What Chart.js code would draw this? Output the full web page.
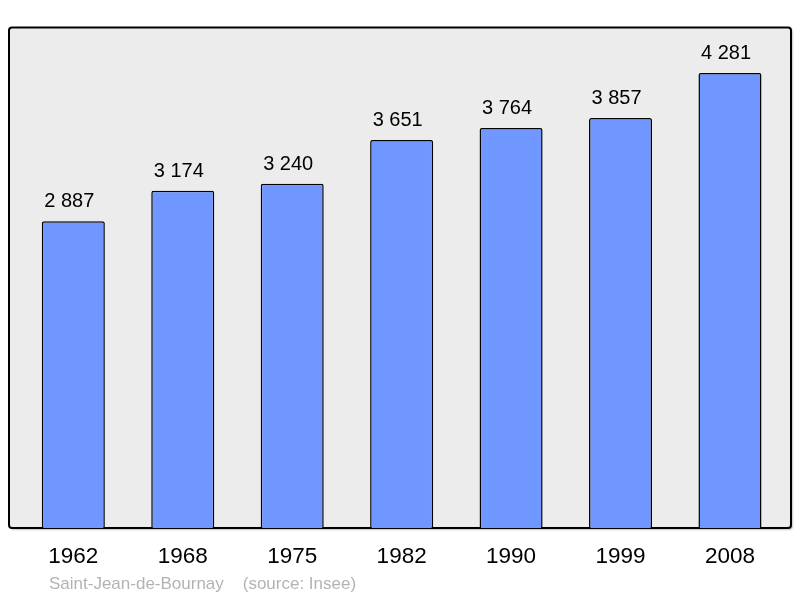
<!DOCTYPE html>
<html>
<head>
<meta charset="utf-8">
<script src="https://cdn.jsdelivr.net/npm/chart.js@4"></script>
<style>
  html, body { margin: 0; padding: 0; background: #ffffff; }
  canvas { display: block; }
</style>
</head>
<body>
<canvas id="myChart" width="800" height="598"></canvas>
<script>
const years = ['1962', '1968', '1975', '1982', '1990', '1999', '2008'];
const population = [2887, 3174, 3240, 3651, 3764, 3857, 4281];
const commune = 'Saint-Jean-de-Bournay';
const source = '(source: Insee)';

const font = '"Liberation Sans", Arial, sans-serif';

function fmt(n) {
  // french style thousands separator
  return String(n).replace(/\B(?=(\d{3})+(?!\d))/g, ' ');
}

// grey panel with black frame behind the bars
const panel = {
  id: 'panel',
  beforeDraw(chart) {
    const c = chart.ctx;
    const area = chart.chartArea;
    c.save();
    c.shadowColor = 'rgba(0,0,0,0.35)';
    c.shadowBlur = 2;
    c.shadowOffsetX = 1.5;
    c.shadowOffsetY = 1.5;
    c.beginPath();
    c.roundRect(9, area.top, 782, area.bottom - area.top, 3);
    c.fillStyle = '#ececec';
    c.fill();
    c.shadowColor = 'transparent';
    c.lineWidth = 2;
    c.strokeStyle = '#000000';
    c.stroke();
    c.restore();
  },
  afterDatasetsDraw(chart) {
    const c = chart.ctx;
    const bars = chart.getDatasetMeta(0).data;
    c.save();
    c.font = '20px ' + font;
    c.fillStyle = '#000000';
    c.textAlign = 'center';
    c.textBaseline = 'alphabetic';
    bars.forEach((bar, i) => {
      c.fillText(fmt(population[i]), bar.x - 4, bar.y - 14);
    });
    c.font = '17px ' + font;
    c.fillStyle = '#b3b3b3';
    c.textAlign = 'left';
    c.textBaseline = 'middle';
    c.fillText(commune + '    ' + source, 49, 584.5);
    c.restore();
  }
};

const ctx = document.getElementById('myChart');
const chart = new Chart(ctx, {
  type: 'bar',
  data: {
    labels: years,
    datasets: [{
      data: population,
      backgroundColor: '#7096ff',
      borderColor: '#000000',
      borderWidth: 1.5,
      borderRadius: 2,
      borderSkipped: 'bottom',
      categoryPercentage: 1,
      barPercentage: 0.576
    }]
  },
  options: {
    responsive: false,
    animation: false,
    events: [],
    layout: {
      padding: { left: 18.6, right: 15.3, top: 27.5, bottom: 0 }
    },
    plugins: {
      legend: { display: false },
      tooltip: { enabled: false }
    },
    scales: {
      x: {
        grid: { display: false, drawTicks: false },
        border: { display: false },
        ticks: {
          color: '#000000',
          font: { family: font, size: 22.5 },
          padding: 15.5,
          maxRotation: 0
        },
        afterFit(scale) {
          scale.height = 70;
        }
      },
      y: {
        display: false,
        min: 0,
        max: 4709
      }
    }
  },
  plugins: [panel]
});
</script>
</body>
</html>
